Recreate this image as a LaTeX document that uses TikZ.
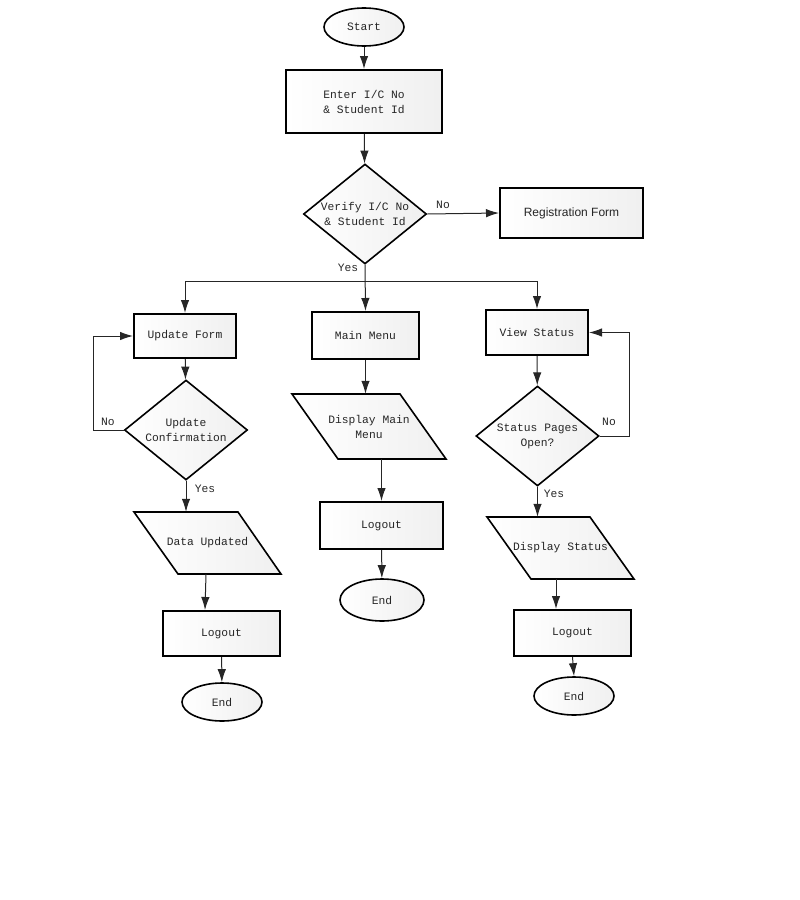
\documentclass[tikz,border=0pt]{standalone}
\usepackage{fontspec}
\setmonofont{Liberation Mono}
\setsansfont{Liberation Sans}
\usetikzlibrary{shapes.geometric,arrows.meta,calc}
\tikzset{
  grad/.style={left color=white,right color=black!6},
  txt/.style={font=\ttfamily\fontsize{11.3}{15}\selectfont,align=center,text=black!85},
  box/.style={draw,line width=2pt,grad,txt,inner sep=0pt},
  term/.style={draw,ellipse,line width=1.6pt,grad,txt,inner sep=0pt,minimum width=80pt,minimum height=38pt},
  dia/.style={draw,diamond,line width=1.6pt,grad,inner sep=0pt,minimum width=123pt,minimum height=100pt},
  para/.style={draw,line width=1.6pt,grad},
  conn/.style={draw=black!85,line width=1pt,-{Latex[length=13pt,width=8.5pt]}},
  lab/.style={font=\ttfamily\fontsize{11.3}{13}\selectfont,text=black!85,inner sep=0pt}
}
\begin{document}
\begin{tikzpicture}[x=1pt,y=-1pt]
\useasboundingbox (0,0) rectangle (800,900);
% top
\node[term] (st) at (364,27) {Start};
\node[box,minimum width=156pt,minimum height=63pt] (en) at (364,101.5) {Enter I/C No\\ \& Student Id};
\node[dia] (vf) at (365,214) {};
\node[txt] (vft) at (365,214) {Verify I/C No\\ \& Student Id};
\node[box,minimum width=143pt,minimum height=50pt,font=\sffamily\fontsize{12}{14}\selectfont] (rf) at (571.5,213) {Registration Form};
\node[lab] (lno) at (443,205) {No};
\node[lab] (lyes) at (348,268) {Yes};
\coordinate (br) at (365,281);
% left column
\node[box,minimum width=102pt,minimum height=44pt] (uf) at (185,336) {Update Form};
\node[dia] (uc) at (186,430) {};
\node[txt] (uct) at (186,430) {Update\\Confirmation};
\node[lab] (lno2) at (108,422) {No};
\node[lab] (lyes2) at (205,489) {Yes};
\draw[para] (134,512) -- (238,512) -- (281,574) -- (178,574) -- cycle;
\node[txt,minimum width=147pt,minimum height=62pt,inner sep=0pt] (du) at (207.5,543) {Data Updated};
\node[box,minimum width=117pt,minimum height=45pt] (lo1) at (221.5,633.5) {Logout};
\node[term] (e1) at (222,702) {End};
% middle column
\node[box,minimum width=107pt,minimum height=47pt] (mm) at (365.5,335.5) {Main Menu};
\draw[para] (292,394) -- (400,394) -- (446,459) -- (338,459) -- cycle;
\node[txt,minimum width=154pt,minimum height=65pt,inner sep=0pt] (dm) at (369,426.5) {Display Main\\Menu};
\node[box,minimum width=123pt,minimum height=47pt] (lo2) at (381.5,525.5) {Logout};
\node[term,minimum width=84pt,minimum height=42pt] (e2) at (382,600) {End};
% right column
\node[box,minimum width=102pt,minimum height=45pt] (vs) at (537,332.5) {View Status};
\node[dia] (sp) at (537.5,436) {};
\node[txt] (spt) at (537.5,436) {Status Pages\\Open?};
\node[lab] (lno3) at (609,422) {No};
\node[lab] (lyes3) at (554,494) {Yes};
\draw[para] (487,517) -- (590,517) -- (634,579) -- (531,579) -- cycle;
\node[txt,minimum width=147pt,minimum height=62pt,inner sep=0pt] (ds) at (560.5,548) {Display Status};
\node[box,minimum width=117pt,minimum height=46pt] (lo3) at (572.5,633) {Logout};
\node[term] (e3) at (574,696) {End};
% connectors
\draw[conn] (st) -- (en);
\draw[conn] (en) -- (vf);
\draw[conn] (vf.east) -- (rf.west);
\draw[conn] (vf.south) -- (mm.north);
\draw[conn] (br) -| (uf.north);
\draw[conn] (br) -| (vs.north);
\draw[conn] (uf) -- (uc);
\draw[conn] (uc.west) -- ++(-30,0) |- (uf.west);
\draw[conn] (uc.south) -- (uc.south |- du.north);
\draw[conn] ($(du.south)+(-1.5,0)$) -- ($(lo1.north)+(-16.5,0)$);
\draw[conn] (lo1) -- (e1);
\draw[conn] (mm.south) -- (mm.south |- dm.north);
\draw[conn] (lo2.north |- dm.south) -- (lo2.north);
\draw[conn] (lo2) -- (e2);
\draw[conn] (vs) -- (sp);
\draw[conn] (sp.east) -- ++(30,0) |- (vs.east);
\draw[conn] (sp.south) -- (sp.south |- ds.north);
\draw[conn] ($(ds.south)+(-4.5,0)$) -- ($(lo3.north)+(-16.5,0)$);
\draw[conn] (lo3.south) -- (e3.north);
\end{tikzpicture}
\end{document}
